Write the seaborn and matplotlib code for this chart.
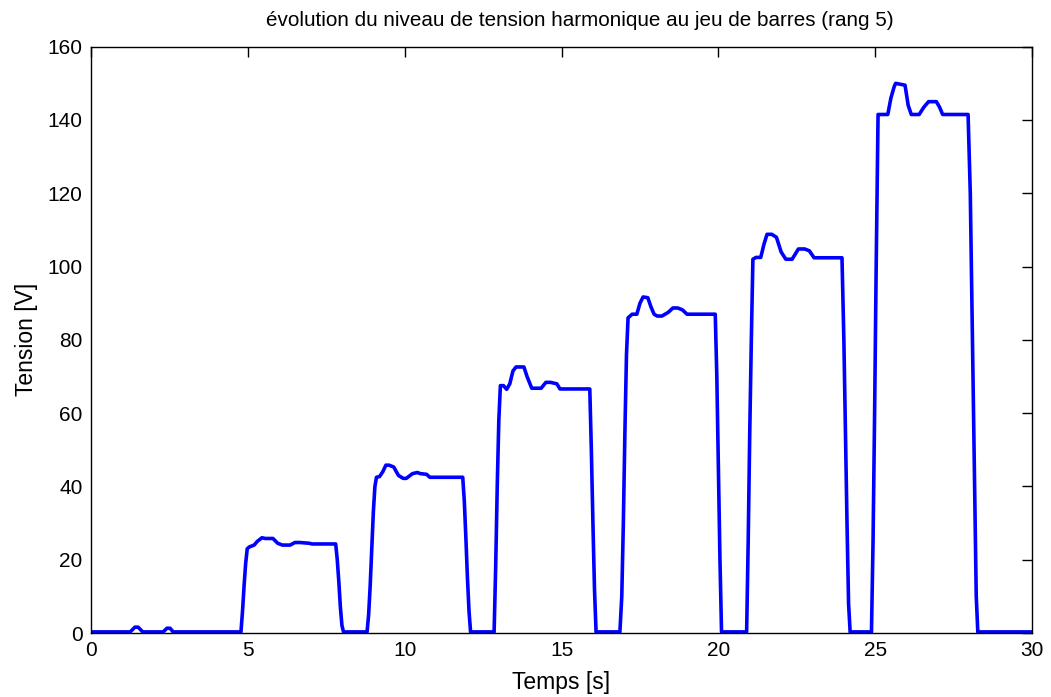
import matplotlib
matplotlib.use("Agg")
import matplotlib.pyplot as plt
import numpy as np
import pandas as pd
import seaborn as sns

# valeurs (temps en s, tension en V)
base_t = [0, 1.25, 1.4, 1.5, 1.65, 2.3, 2.42, 2.52, 2.62, 4.78]
base_v = [0.3, 0.3, 1.6, 1.6, 0.3, 0.3, 1.3, 1.3, 0.3, 0.3]

p1_t = [4.83, 4.88, 4.93, 4.98, 5.05, 5.2, 5.3, 5.45, 5.55, 5.8, 5.95, 6.1,
        6.35, 6.5, 6.65, 6.95, 7.05, 7.8, 7.85, 7.9, 7.95, 8.0, 8.05, 8.8]
p1_v = [6, 13, 19, 23, 23.5, 24, 25, 26, 25.8, 25.8, 24.5, 24,
        24, 24.7, 24.7, 24.5, 24.3, 24.3, 20, 14, 7, 2, 0.3, 0.3]

p2_t = [8.85, 8.9, 8.95, 9.0, 9.05, 9.1, 9.2, 9.3, 9.4, 9.5, 9.65, 9.8, 9.95,
        10.05, 10.25, 10.4, 10.5, 10.7, 10.8, 10.95, 11.85, 11.9, 11.95, 12.0,
        12.05, 12.1, 12.85]
p2_v = [5, 13, 23, 33, 40, 42.5, 42.7, 44, 45.8, 45.8, 45.3, 43, 42.2,
        42.2, 43.5, 43.8, 43.5, 43.3, 42.5, 42.5, 42.5, 36, 26, 15,
        6, 0.3, 0.3]

p3_t = [12.9, 12.95, 13.0, 13.05, 13.15, 13.25, 13.35, 13.45, 13.55, 13.8,
        13.9, 14.05, 14.35, 14.5, 14.65, 14.85, 14.95, 15.1, 15.9, 15.95,
        16.0, 16.05, 16.1, 16.86]
p3_v = [18, 40, 58, 67.5, 67.5, 66.5, 68, 71.5, 72.6, 72.6,
        70, 66.8, 66.8, 68.4, 68.4, 68, 66.6, 66.6, 66.6, 50,
        30, 12, 0.3, 0.3]

p4_t = [16.92, 16.97, 17.02, 17.07, 17.12, 17.25, 17.4, 17.5, 17.6, 17.75,
        17.85, 17.95, 18.05, 18.2, 18.4, 18.55, 18.7, 18.85, 19.0, 19.2,
        19.9, 19.95, 20.0, 20.05, 20.1, 20.9]
p4_v = [10, 30, 55, 76, 86, 87, 87, 90, 91.7, 91.5,
        89, 87, 86.5, 86.5, 87.5, 88.7, 88.7, 88.2, 87, 87,
        87, 70, 45, 20, 0.3, 0.3]

p5_t = [20.95, 21.0, 21.05, 21.1, 21.2, 21.35, 21.45, 21.55, 21.7, 21.85,
        22.0, 22.15, 22.35, 22.55, 22.75, 22.9, 23.05, 23.15, 23.94, 24.0,
        24.05, 24.1, 24.15, 24.2, 24.88]
p5_v = [25, 55, 80, 102, 102.5, 102.5, 106, 108.8, 108.8, 108,
        104, 102, 102, 104.8, 104.8, 104.3, 102.4, 102.4, 102.4, 80,
        55, 30, 8, 0.3, 0.3]

p6_t = [24.93, 24.98, 25.03, 25.09, 25.25, 25.4, 25.5, 25.6, 25.65, 25.95,
        26.05, 26.15, 26.4, 26.55, 26.7, 26.95, 27.05, 27.15, 27.96, 28.03,
        28.1, 28.17, 28.22, 28.27, 30]
p6_v = [25, 60, 100, 141.5, 141.5, 141.5, 146, 149, 150, 149.5,
        144, 141.5, 141.5, 143.5, 145, 145, 143.5, 141.5, 141.5, 120,
        80, 40, 10, 0.3, 0.3]

temps = base_t + p1_t + p2_t + p3_t + p4_t + p5_t + p6_t
tension = base_v + p1_v + p2_v + p3_v + p4_v + p5_v + p6_v
df = pd.DataFrame({'temps': temps, 'tension': tension})

sns.set_style('white')
plt.rcParams['font.family'] = ['Liberation Sans', 'DejaVu Sans']
plt.rcParams['text.color'] = 'black'
plt.rcParams['axes.labelcolor'] = 'black'

fig = plt.figure(figsize=(10.51, 6.97), dpi=100)
ax = fig.add_axes([0.0866, 0.0918, 0.8954, 0.8412])

sns.lineplot(data=df, x='temps', y='tension', sort=False, estimator=None,
             color='#0000ff', linewidth=2.6, ax=ax)

ax.set_xlim(0, 30)
ax.set_ylim(0, 160)
ax.set_xticks(np.arange(0, 31, 5))
ax.set_yticks(np.arange(0, 161, 20))
ax.tick_params(direction='in', length=7, width=1, top=True, right=True,
               labelsize=15, colors='black', pad=6)
for s in ax.spines.values():
    s.set_color('black')
    s.set_linewidth(1)
ax.set_xlabel('Temps [s]', fontsize=16.5, labelpad=8)
ax.set_ylabel('Tension [V]', fontsize=16.5, labelpad=7)
ax.set_title('évolution du niveau de tension harmonique au jeu de barres (rang 5)',
             fontsize=14.9, pad=15, x=0.519, color='black')

fig.savefig('out.png', dpi=100)
